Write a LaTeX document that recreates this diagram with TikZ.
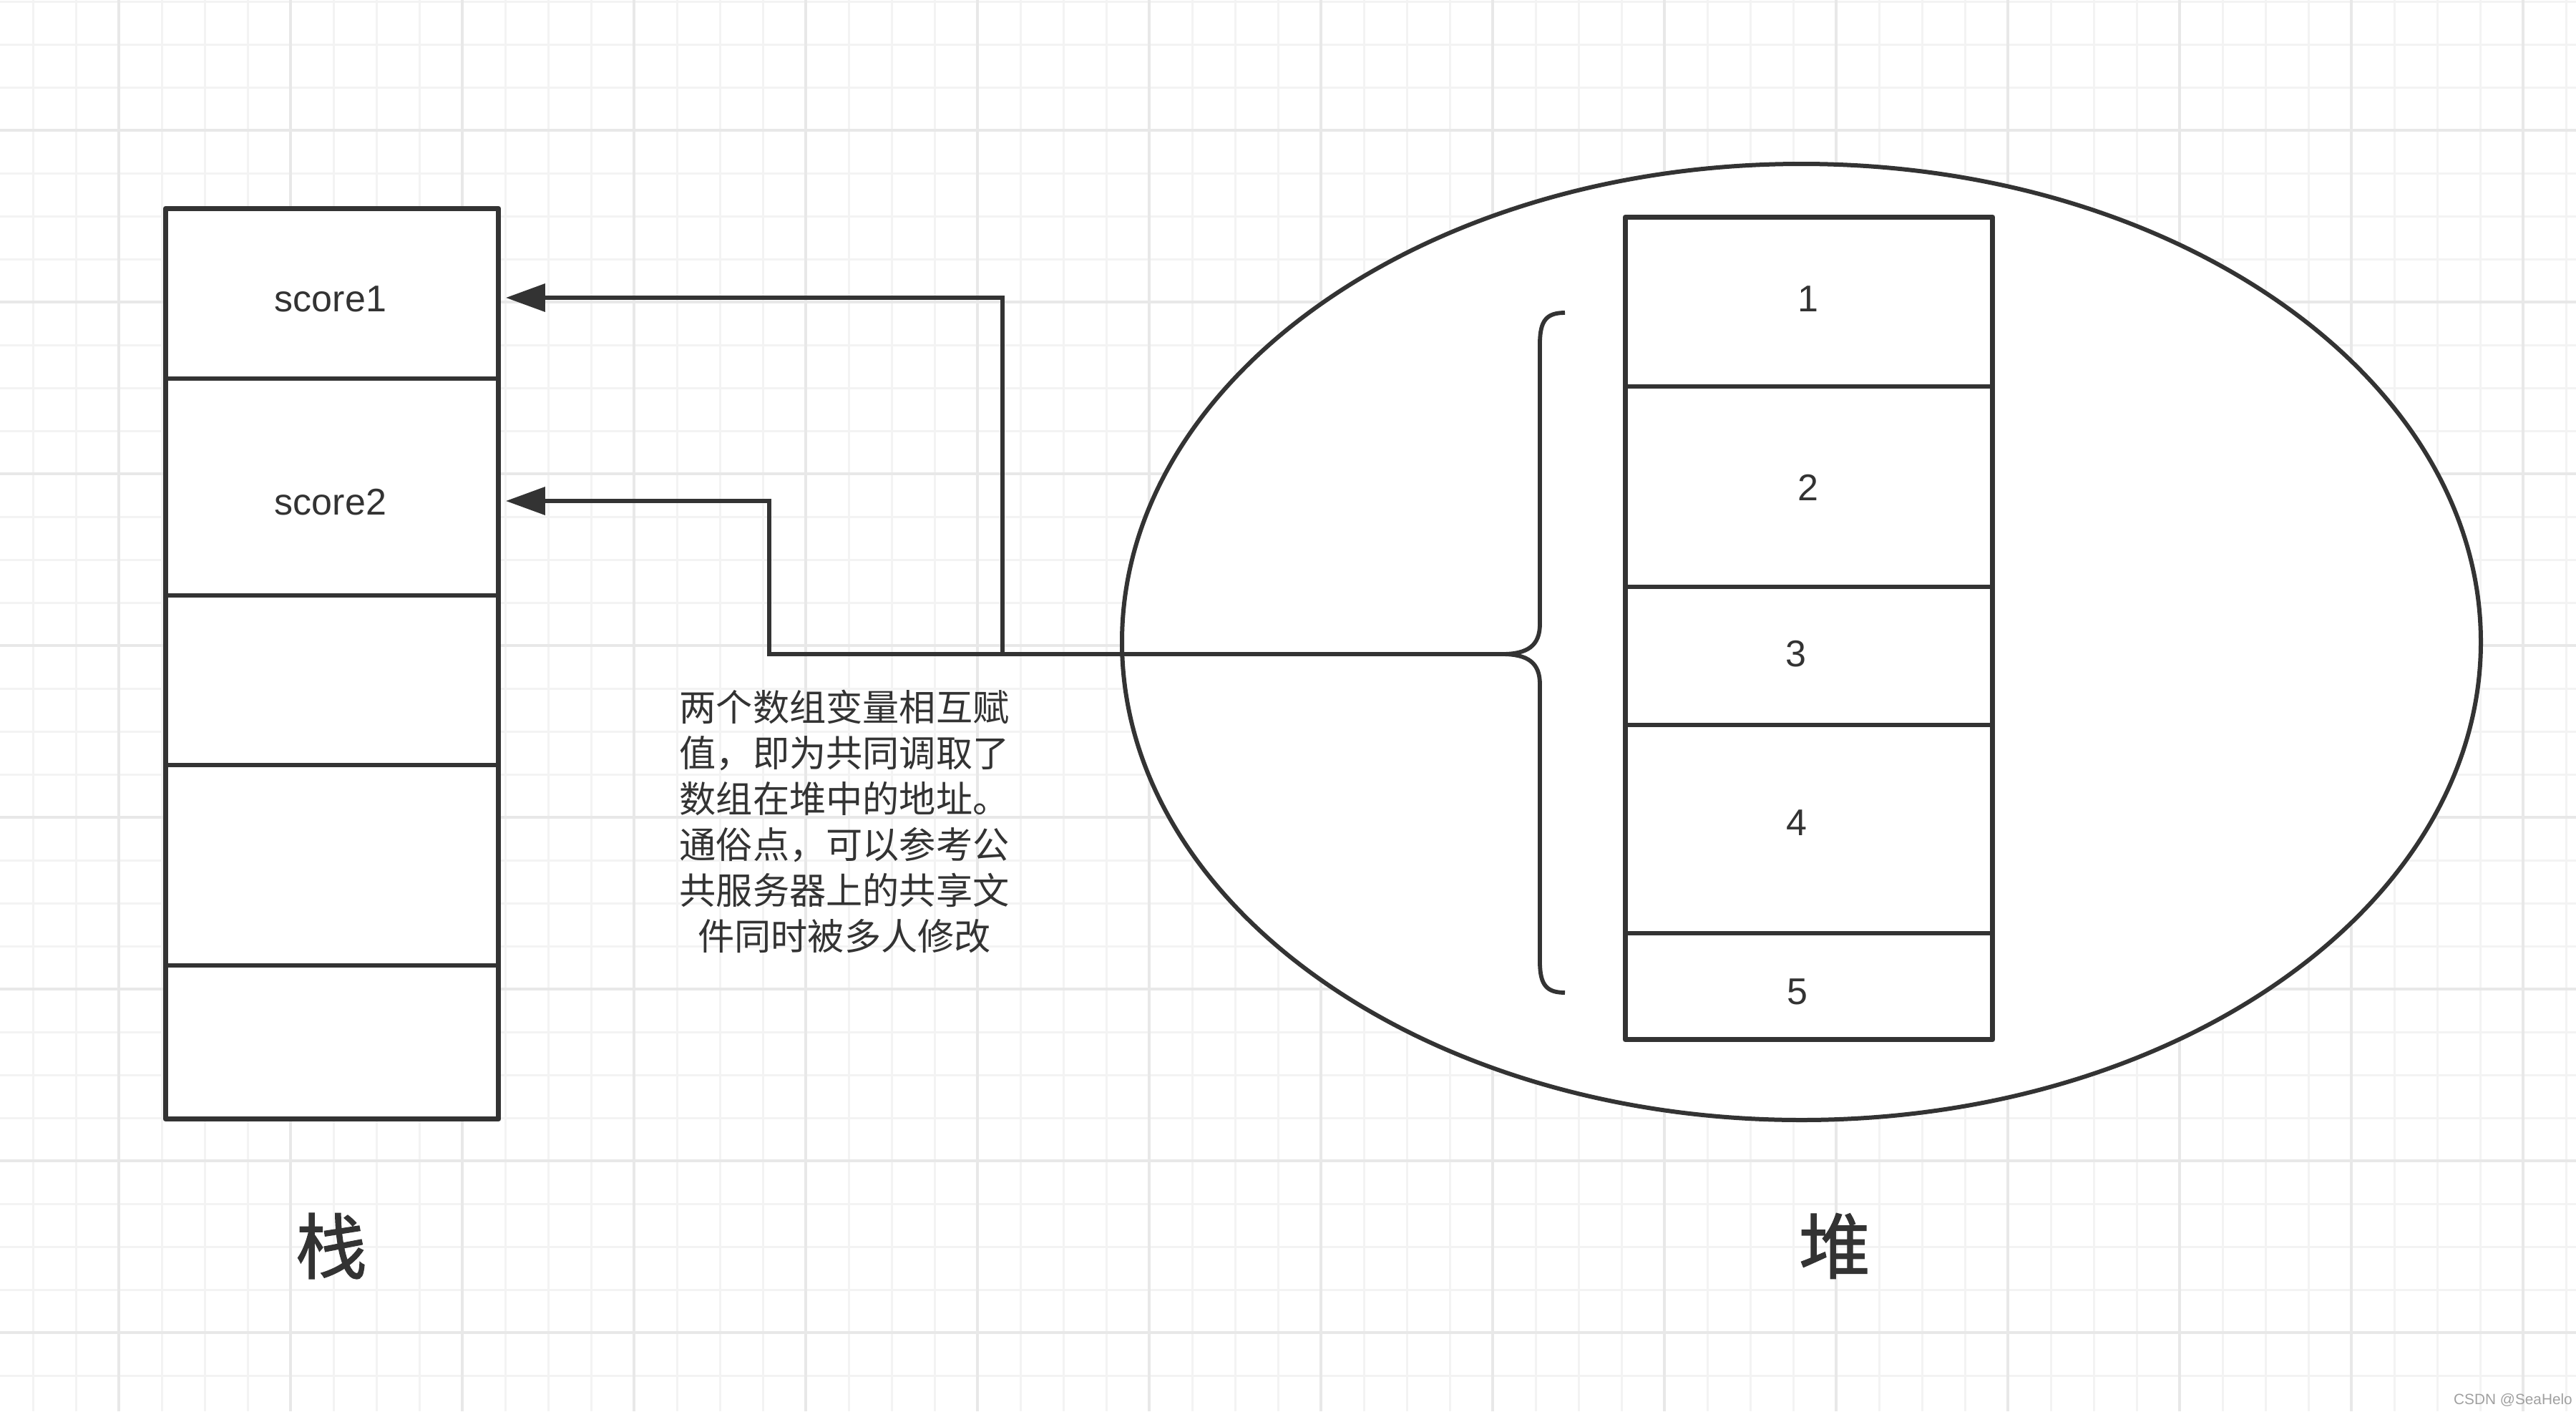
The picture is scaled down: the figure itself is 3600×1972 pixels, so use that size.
\documentclass[tikz,border=0pt]{standalone}
\usepackage{fontspec}
\setmainfont{Liberation Sans}
\newfontfamily\cjk{Noto Sans CJK SC}
\newfontfamily\cjkheavy{Noto Sans CJK SC}[FakeBold=1.2]
\usetikzlibrary{arrows.meta,calc}
\definecolor{ink}{HTML}{333333}
\definecolor{gridminor}{HTML}{F3F3F3}
\definecolor{gridmajor}{HTML}{E8E8E8}
\definecolor{wm}{HTML}{A0A0A0}
\tikzset{
  minorline/.style={gridminor, line width=0.75pt},
  majorline/.style={gridmajor, line width=0.8pt},
  outline/.style={draw=ink, line width=1.8pt, line join=round},
  divider/.style={ink, line width=1.65pt},
  conn/.style={ink, line width=1.65pt},
  arrowtip/.style={-{Triangle[length=13.75pt,width=9.5pt]}},
  bracestyle/.style={ink, line width=1.45pt},
  ellstyle/.style={draw=ink, fill=white, line width=1.5pt},
  scell/.style={rectangle, inner sep=0pt, minimum width=116pt},
  hcell/.style={rectangle, inner sep=0pt, minimum width=128pt},
  lab/.style={inner sep=0pt, text=ink, font=\fontsize{13pt}{15.6pt}\selectfont},
  title/.style={inner sep=0pt, text=ink, font=\cjkheavy\fontsize{25pt}{30pt}\selectfont},
  note/.style={inner sep=0pt, text=ink, align=center, font=\cjk\fontsize{12.8pt}{16pt}\selectfont},
  wmark/.style={inner sep=0pt, text=wm, font=\fontsize{5.2pt}{6pt}\selectfont}
}
\begin{document}
\begin{tikzpicture}[x=0.25pt, y=-0.25pt]
\useasboundingbox (0,0) rectangle (3600,1972);
\fill[white] (0,0) rectangle (3600,1972);
% grid
\foreach \gx in {46,106,...,3600} \draw[minorline] (\gx,0) -- (\gx,1972);
\foreach \gy in {2,62,...,1972} \draw[minorline] (0,\gy) -- (3600,\gy);
\foreach \gx in {166,406,...,3600} \draw[majorline] (\gx,0) -- (\gx,1972);
\foreach \gy in {182,422,...,1972} \draw[majorline] (0,\gy) -- (3600,\gy);

% heap ellipse
\draw[ellstyle] (2517.5,897) ellipse [x radius=949.5, y radius=668];

% heap cells
\node[hcell, minimum height=58.75pt] (h1) at (2528,421.5) {};
\node[hcell, minimum height=70pt]    (h2) at (2528,679) {};
\node[hcell, minimum height=48.25pt] (h3) at (2528,915.5) {};
\node[hcell, minimum height=72.75pt] (h4) at (2528,1157.5) {};
\node[hcell, minimum height=37.25pt] (h5) at (2528,1377.5) {};
\draw[outline, fill=white] (h1.north west) rectangle (h5.south east);
\draw[divider] (h1.south west) -- (h1.south east);
\draw[divider] (h2.south west) -- (h2.south east);
\draw[divider] (h3.south west) -- (h3.south east);
\draw[divider] (h4.south west) -- (h4.south east);
\node[lab] (n1) at (2527,418) {1};
\node[lab] (n2) at (2527,681) {2};
\node[lab] (n3) at (2510,914) {3};
\node[lab] (n4) at (2511,1150) {4};
\node[lab] (n5) at (2512,1386) {5};

% brace
\coordinate (bt) at (2099,914);
\draw[bracestyle] (2187,437) .. controls (2162,437) and (2152,447) .. (2152,480)
  -- (2152,872) .. controls (2152,902) and (2135,914) .. (bt)
  .. controls (2135,914) and (2152,926) .. (2152,956)
  -- (2152,1344) .. controls (2152,1377) and (2162,1387) .. (2187,1387);

% stack cells
\node[scell, minimum height=59pt]    (s1) at (464,410) {};
\node[scell, minimum height=75.75pt] (s2) at (464,679.5) {};
\node[scell, minimum height=59.25pt] (s3) at (464,949.5) {};
\node[scell, minimum height=70pt]    (s4) at (464,1208) {};
\node[scell, minimum height=53.75pt] (s5) at (464,1455.5) {};
\draw[outline, fill=white] (s1.north west) rectangle (s5.south east);
\draw[divider] (s1.south west) -- (s1.south east);
\draw[divider] (s2.south west) -- (s2.south east);
\draw[divider] (s3.south west) -- (s3.south east);
\draw[divider] (s4.south west) -- (s4.south east);
\node[lab] (t1) at (462,418) {score1};
\node[lab] (t2) at (462,702) {score2};

% connectors
\coordinate (k1) at (1401,914);
\coordinate (k2) at (1075,914);
\draw[conn, arrowtip] (bt) -- (k1) |- ($(s1.east)+(10,6)$);
\draw[conn, arrowtip] (bt) -- (k2) |- ($(s2.east)+(10,20.5)$);

% texts
\node[note] (desc) at (1180,1148) {两个数组变量相互赋\\值，即为共同调取了\\数组在堆中的地址。\\通俗点，可以参考公\\共服务器上的共享文\\件同时被多人修改};
\node[title] (stk) at (463,1741) {栈};
\node[title] (hp) at (2564,1741) {堆};
\node[wmark] (wmk) at (3512,1956) {CSDN @SeaHelo};
\end{tikzpicture}
\end{document}
